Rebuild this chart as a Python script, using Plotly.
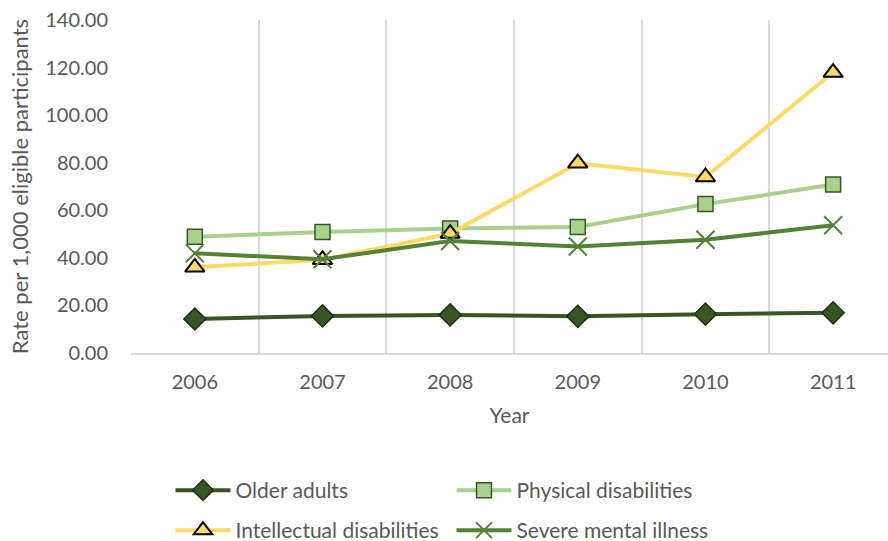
import plotly.graph_objects as go

years = ["2006", "2007", "2008", "2009", "2010", "2011"]
older_adults = [14.3, 15.6, 16.0, 15.4, 16.3, 16.9]
physical = [48.9, 50.9, 52.3, 53.0, 62.6, 70.8]
intellectual = [36.0, 39.2, 50.2, 79.8, 74.0, 117.9]
severe_mental = [41.9, 39.4, 47.1, 44.8, 47.6, 53.7]
y_ticks = [0, 20, 40, 60, 80, 100, 120, 140]

FONT = "Lato"
GRAY = "#595959"

fig = go.Figure()

fig.add_trace(go.Scatter(
    x=years, y=older_adults, name="Older adults", mode="lines+markers",
    line=dict(color="#375623", width=4),
    marker=dict(symbol="diamond", size=17, color="#375623",
                line=dict(color="#1e2e14", width=1.5)),
    legend="legend"))
fig.add_trace(go.Scatter(
    x=years, y=physical, name="Physical disabilities", mode="lines+markers",
    line=dict(color="#A9D18E", width=4),
    marker=dict(symbol="square", size=15, color="#A9D18E",
                line=dict(color="#385723", width=1.5)),
    legend="legend"))
fig.add_trace(go.Scatter(
    x=years, y=intellectual, name="Intellectual disabilities", mode="lines+markers",
    line=dict(color="#FFD966", width=4),
    marker=dict(symbol="triangle-up", size=17, color="#FFD966",
                line=dict(color="#000000", width=2)),
    legend="legend2"))
fig.add_trace(go.Scatter(
    x=years, y=severe_mental, name="Severe mental illness", mode="lines+markers",
    line=dict(color="#548235", width=4),
    marker=dict(symbol="x-thin-open", size=18, color="#548235",
                line=dict(color="#548235", width=2)),
    legend="legend2"))

legend_common = dict(orientation="h", xref="container", yref="container",
                     xanchor="left", yanchor="top",
                     entrywidth=211, entrywidthmode="pixels",
                     font=dict(family=FONT, size=21, color=GRAY),
                     bgcolor="rgba(0,0,0,0)", itemwidth=55)

fig.update_layout(
    width=888, height=541,
    margin=dict(l=131, r=0, t=20, b=188),
    paper_bgcolor="white", plot_bgcolor="white",
    font=dict(family=FONT, color=GRAY, size=19),
    showlegend=True,
    legend=dict(x=0.192, y=1 - 470 / 541, **legend_common),
    legend2=dict(x=0.192, y=1 - 510 / 541, **legend_common),
)

fig.update_xaxes(
    type="category", range=[-0.5, 5.43], tickson="boundaries",
    showgrid=True, gridcolor="#d9d9d9", gridwidth=1.5,
    showline=True, linecolor="#d9d9d9", linewidth=1.5,
    ticks="", ticklen=0, ticklabelstandoff=10,
    tickfont=dict(family=FONT, size=20, color=GRAY),
    title=dict(text="Year", font=dict(family=FONT, size=21, color=GRAY), standoff=17),
)
fig.update_yaxes(
    range=[0, 140], tickvals=y_ticks, tickformat=".2f",
    showgrid=False, zeroline=False, showline=False, ticks="",
    ticklabelstandoff=22,
    tickfont=dict(family=FONT, size=20, color=GRAY),
    title=dict(text="Rate per 1,000 eligible participants",
               font=dict(family=FONT, size=22, color=GRAY), standoff=10),
)

fig.write_html("out.html")
